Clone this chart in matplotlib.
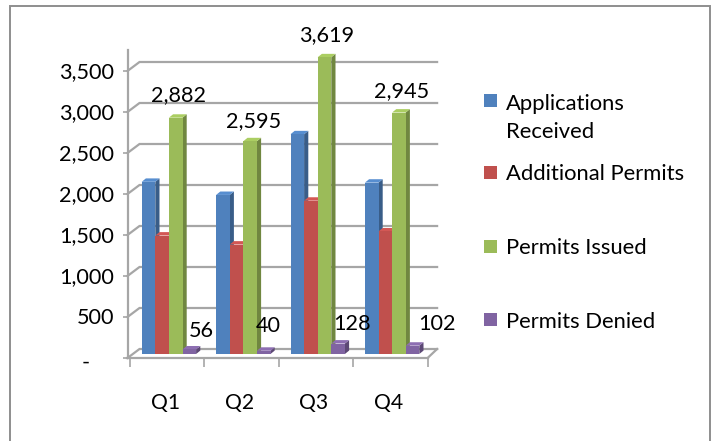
import matplotlib
matplotlib.use("Agg")
import matplotlib.pyplot as plt
from matplotlib.patches import Polygon, Rectangle
from matplotlib.transforms import Affine2D
import matplotlib.colors as mc

quarters = ["Q1", "Q2", "Q3", "Q4"]
applications = [2100, 1940, 2680, 2090]
additional = [1445, 1335, 1870, 1495]
issued = [2882, 2595, 3619, 2945]
denied = [56, 40, 128, 102]
series_names = ["Applications\nReceived", "Additional Permits", "Permits Issued", "Permits Denied"]
colors = ["#4F81BD", "#C0504D", "#9BBB59", "#8064A2"]
yticks = [0, 500, 1000, 1500, 2000, 2500, 3000, 3500]
ylabels = ["-", "500", "1,000", "1,500", "2,000", "2,500", "3,000", "3,500"]
FONT = "Lato"
GRAY = "#A6A6A6"
W, H = 713, 441

plt.rcParams["font.family"] = FONT
fig = plt.figure(figsize=(W / 100, H / 100), dpi=100)
px = Affine2D().scale(1, -1).translate(0, H)

fig.add_artist(Rectangle((9.7, 5.7), 700.5, 445, transform=px, fc="white", ec="#8E8E8E", lw=1.4, zorder=-5))

def axes_px(left, right, top, bottom):
    return fig.add_axes([left / W, (H - bottom) / H, (right - left) / W, (bottom - top) / H])

CAT = 74.4
UNIT = 41 / 500

# front axis with ticks, labels and back-wall grid
ax2 = axes_px(127.5, 428, 50, 358)
ax2.patch.set_alpha(0)
ax2.set_xlim(-0.5 - 2.5 / CAT, -0.5 - 2.5 / CAT + 300.5 / CAT)
ax2.set_ylim(0, 308 / UNIT)
for s in ["top", "right"]:
    ax2.spines[s].set_visible(False)
for s in ["left", "bottom"]:
    ax2.spines[s].set_color(GRAY)
    ax2.spines[s].set_linewidth(1.6)
ax2.set_yticks(yticks, ylabels, fontsize=15.6, color="black")
ax2.tick_params(axis="y", length=3.8, width=1.2, color=GRAY, pad=6)
ax2.set_xticks([-0.5, 0.5, 1.5, 2.5, 3.5], [""] * 5)
ax2.set_xticks(range(4), quarters, minor=True, fontsize=15.2)
ax2.tick_params(axis="x", which="major", length=6.5, width=1.2, color=GRAY)
ax2.tick_params(axis="x", which="minor", length=0, pad=25)
for lab in ax2.get_xticklabels(minor=True):
    lab.set_transform(lab.get_transform() + Affine2D().translate(-2, 0))
ddx, ddy = 9.5 / CAT, 9 / UNIT
for v in yticks:
    x0, x1 = -0.5 - 2.5 / CAT, 3.5
    ax2.plot([x0, -0.5 + ddx, x1 + ddx], [v, v + ddy, v + ddy], color=GRAY, lw=1.6,
             clip_on=False, solid_joinstyle="miter", zorder=1)
ax2.plot([3.5, 3.5 + ddx], [0, ddy], color=GRAY, lw=1.6, clip_on=False, zorder=1)
for lab in ax2.get_yticklabels():
    if lab.get_text() == "-":
        lab.set_transform(lab.get_transform() + Affine2D().translate(-24, -3))
    else:
        lab.set_transform(lab.get_transform() + Affine2D().translate(0, 1))

# bars
ax = axes_px(130, 427.6, 67, 354)
ax.patch.set_alpha(0)
ax.axis("off")
ax.set_xlim(-0.5, 3.5)
ax.set_ylim(0, 3500)
bw = 13.6 / CAT
shift = 1.7 / CAT
sx, sy = 4.2 / CAT, 3.4 / UNIT
for j, vals in enumerate([applications, additional, issued, denied]):
    base = colors[j]
    rgb = mc.to_rgb(base)
    dark = tuple(c * 0.72 for c in rgb)
    light = tuple(min(1, c * 1.1) for c in rgb)
    xs = [i + (j - 1.5) * bw + shift for i in range(4)]
    for x, v in zip(xs, vals):
        r = x + bw / 2
        l = x - bw / 2
        ax.add_patch(Polygon([(r, 0), (r + sx, sy), (r + sx, v + sy), (r, v)], fc=dark, ec="none",
                             clip_on=False, zorder=j + 2))
        ax.add_patch(Polygon([(l, v), (l + sx, v + sy), (r + sx, v + sy), (r, v)], fc=light, ec="none",
                             clip_on=False, zorder=j + 2))
    ax.bar(xs, vals, width=bw, color=base, zorder=j + 2.5, clip_on=False)

# data labels
issued_nudge = [(3, 23), (3, 20), (2, 22), (3, 21)]
for i, v in enumerate(issued):
    ax.annotate(f"{v:,}", (i + 0.5 * bw + shift, v), xytext=(issued_nudge[i][0] * 0.72, issued_nudge[i][1] * 0.72),
                textcoords="offset points", ha="center", va="center", fontsize=15.6, zorder=10,
                annotation_clip=False)
denied_nudge = [(12, 18), (5, 25), (14, 20), (24, 22)]
for i, v in enumerate(denied):
    ax.annotate(f"{v:,}", (i + 1.5 * bw + shift, v), xytext=(denied_nudge[i][0] * 0.72, denied_nudge[i][1] * 0.72),
                textcoords="offset points", ha="center", va="center", fontsize=15.6, zorder=10,
                annotation_clip=False)

# legend
square_y = [100, 172, 246, 319]
text_y = [117.5, 174, 248, 322]
for name, c, sqy, ty in zip(series_names, colors, square_y, text_y):
    fig.add_artist(Rectangle((484, sqy - 6.5), 13, 13, transform=px, fc=c, ec="none"))
    fig.text(506, ty, name, transform=px, fontsize=15.8, va="center", ha="left", linespacing=1.5)

fig.savefig("out.png", dpi=100)
